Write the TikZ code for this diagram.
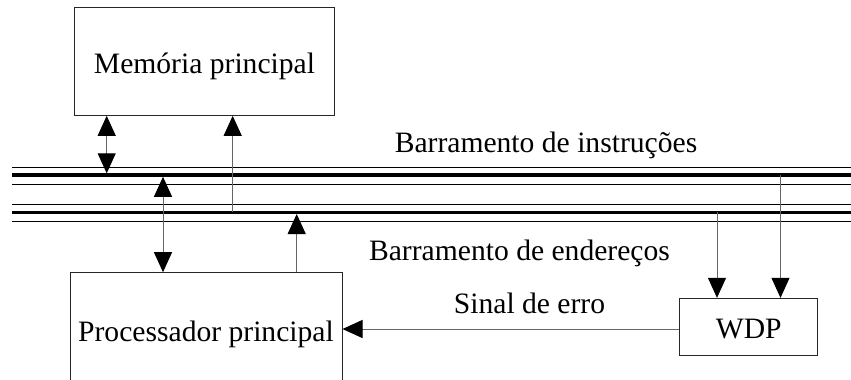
\documentclass[tikz,border=0pt]{standalone}
\usepackage{fontspec}
\setmainfont{Liberation Serif}
\usetikzlibrary{arrows.meta}

\begin{document}
\begin{tikzpicture}[
    x=1pt, y=-1pt,
    every node/.style={font=\fontsize{29.6}{34}\selectfont, inner sep=0pt},
    box/.style={draw=black!85, line width=1pt, text height=24.5pt, text depth=0pt},
    tip/.style={Triangle[length=20pt,width=18pt,color=black]},
    arrow/.style={-{Triangle[length=20pt,width=18pt,color=black]}, draw=black!60, line width=1pt},
    both/.style={{Triangle[length=20pt,width=18pt,color=black]}-{Triangle[length=20pt,width=18pt,color=black]}, draw=black!60, line width=1pt}
]
\useasboundingbox (0,0) rectangle (851,380);

% blocos
\node[box, minimum width=260.4pt, minimum height=108pt] (mem) at (204.5,61.3) {Memória principal};
\node[box, minimum width=272pt, minimum height=112.6pt] (proc) at (206,329) {Processador principal};
\node[box, minimum width=137.7pt, minimum height=56.7pt] (wdp) at (748.8,326.7) {WDP};

% barramentos
\foreach \y/\w in {167.3/1pt, 175/3.5pt, 184/1pt, 204/1pt, 212.3/3.5pt, 221/1pt}
    \draw[line width=\w] (12,\y) -- (851,\y);
\node[anchor=base] (instr) at (546,152) {Barramento de instruções};
\node[anchor=base] (ender) at (519.5,260) {Barramento de endereços};
\node[anchor=base] (erro) at (529.5,313) {Sinal de erro};

% ligacoes
\coordinate (t1) at (106.7,173.3);
\coordinate (t2) at (232.7,212.3);
\coordinate (t3) at (163,176.8);
\coordinate (t4) at (296.7,214);
\coordinate (t5) at (717,212.3);
\coordinate (t6) at (780.5,175);
\draw[both] (mem.south -| t1) -- (t1);
\draw[arrow] (t2) -- (mem.south -| t2);
\draw[both] (t3) -- (proc.north -| t3);
\draw[arrow] (proc.north -| t4) -- (t4);
\draw[arrow] (t5) -- (wdp.north -| t5);
\draw[arrow] (t6) -- (wdp.north -| t6);
\draw[arrow] (wdp.west |- proc.east) -- (proc.east);
\end{tikzpicture}
\end{document}
